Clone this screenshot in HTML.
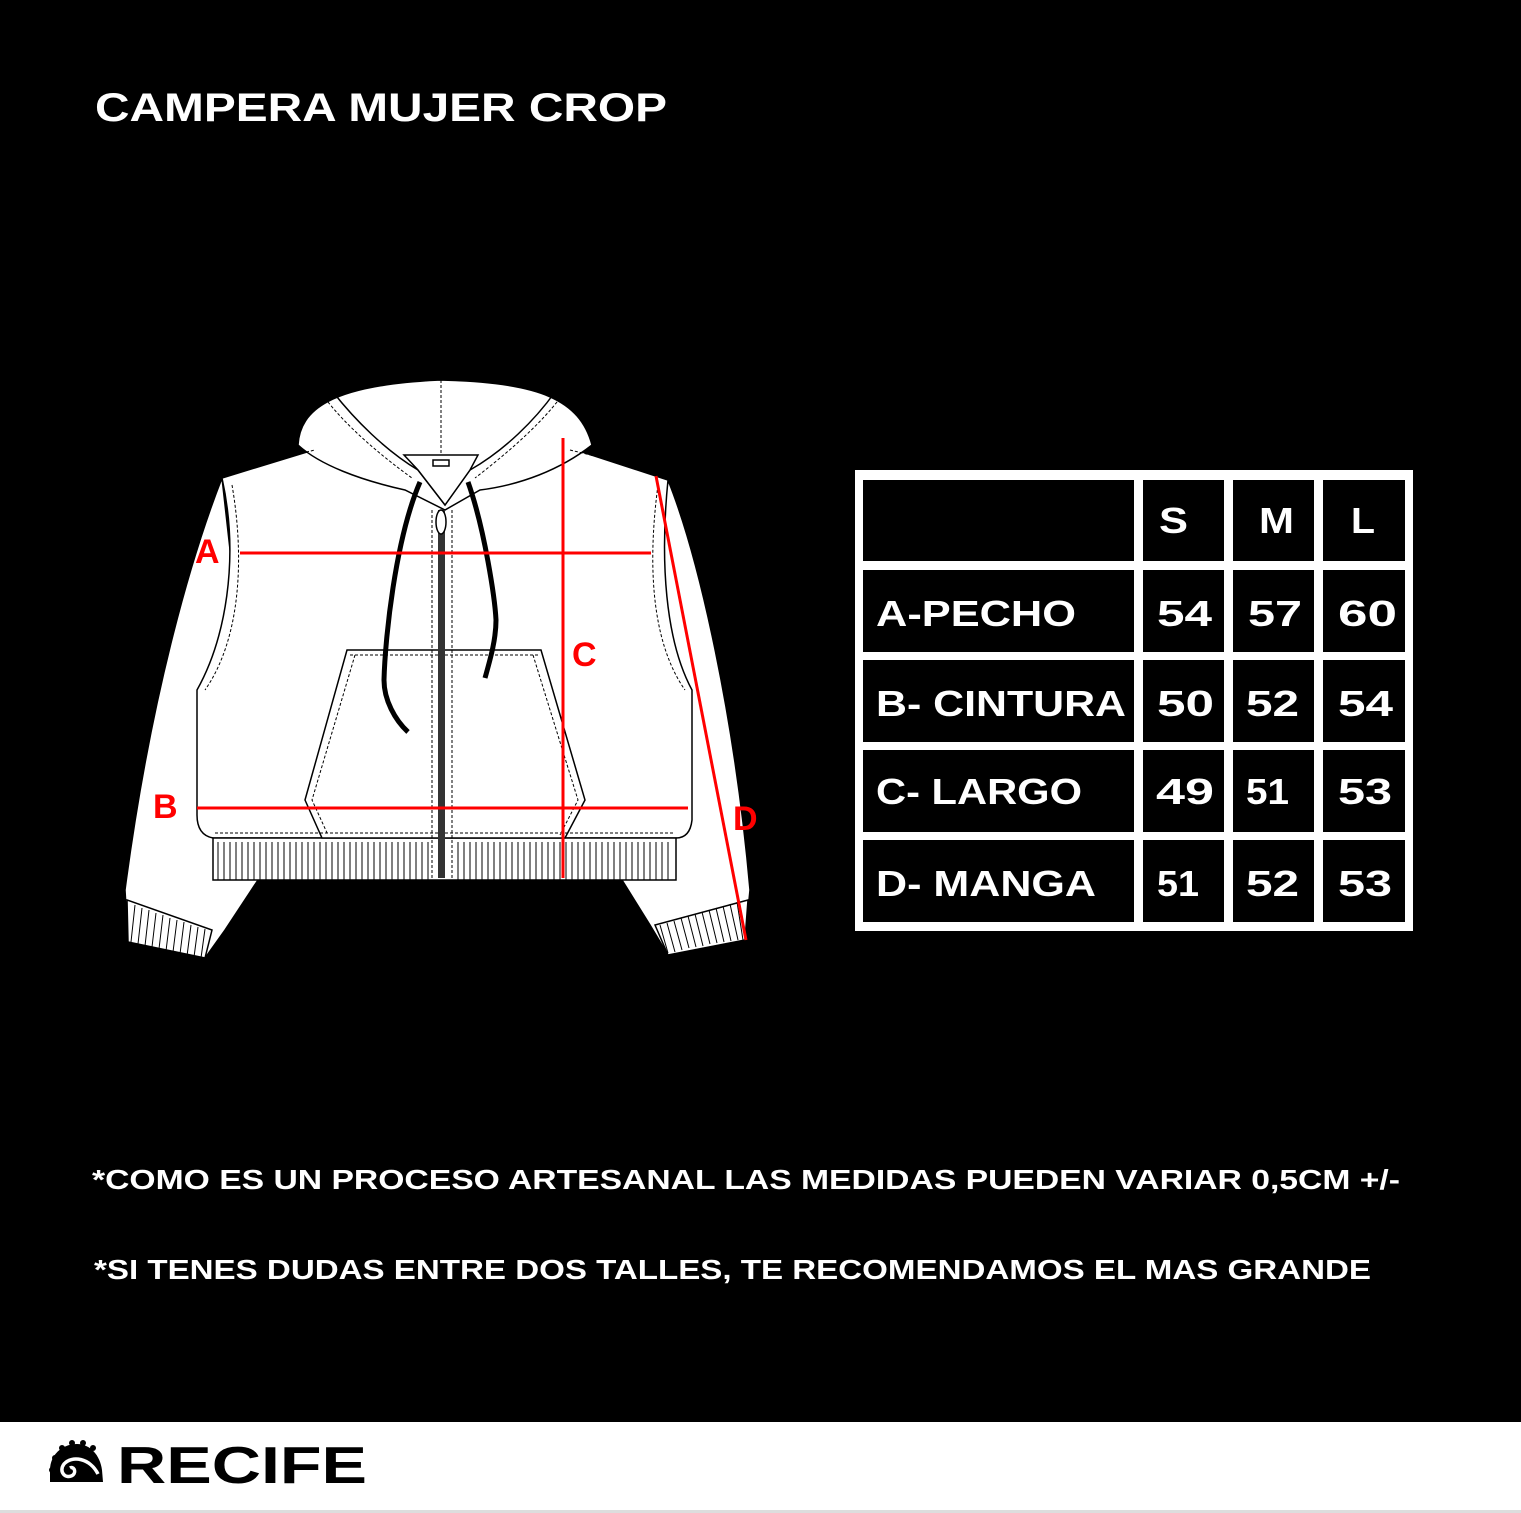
<!DOCTYPE html>
<html><head><meta charset="utf-8"><style>
html,body{margin:0;padding:0;background:#000;}
svg{display:block;}
text{font-family:"Liberation Sans",sans-serif;font-weight:bold;}
</style></head><body>
<svg width="1521" height="1513" viewBox="0 0 1521 1513" xmlns="http://www.w3.org/2000/svg">
<rect x="0" y="0" width="1521" height="1513" fill="#000"/>
<rect x="0" y="1422" width="1521" height="91" fill="#fff"/>
<rect x="0" y="1510" width="1521" height="3" fill="#ddd"/>

<text x="95" y="121" font-size="40" fill="#fff" textLength="572" lengthAdjust="spacingAndGlyphs">CAMPERA MUJER CROP</text>

<!-- jacket -->
<g stroke="#000" stroke-width="1.5" fill="#fff">
  <path d="M222,478 C190,560 150,700 125,890 L128,940 L205,958 L225,930 L258,880 L258,800 Z"/>
  <path d="M668,480 C700,560 735,720 750,890 L745,940 L668,955 L650,925 L622,880 L622,800 Z"/>
  <path d="M127,900 L212,930 L205,958 L128,942 Z"/>
  <path d="M748,900 L655,925 L668,955 L745,940 Z"/>
  <path d="M222,478 L320,448 L570,448 L668,480 C660,560 665,640 692,690 L692,820 Q690,838 676,838 L213,838 Q197,835 197,815 L197,690 C225,640 240,560 222,478 Z"/>
  <rect x="213" y="838" width="463" height="42"/>
  <path d="M298,445 C300,410 330,385 440,380 C540,382 580,400 592,445 C560,470 520,485 480,490 L445,510 L405,490 C360,480 320,465 298,445 Z"/>
  <path d="M333,392 C355,420 385,450 418,470 L445,505 L470,470 C505,450 535,420 555,392" fill="none"/>
  <path d="M404,455 L478,455 L470,470 L445,505 L418,470 Z"/>
  <rect x="433" y="460" width="16" height="6" fill="#fff"/>
  <path d="M347,650 L541,650 L585,800 L565,838 L322,838 L305,800 Z"/>
</g>
<g stroke="#000" stroke-width="1" fill="none" stroke-dasharray="3,2">
  <line x1="441" y1="380" x2="441" y2="455"/>
  <path d="M325,398 C345,425 380,455 412,478"/>
  <path d="M560,398 C540,425 505,455 475,478"/>
  <path d="M232,485 C245,560 240,640 205,690"/>
  <path d="M658,485 C648,560 650,640 685,690"/>
  <path d="M228,470 L315,450"/>
  <path d="M570,450 L660,472"/>
  <line x1="432" y1="510" x2="432" y2="878"/>
  <line x1="452" y1="510" x2="452" y2="878"/>
  <path d="M355,655 L312,800 L328,835"/>
  <path d="M533,655 L578,800 L560,835"/>
  <line x1="350" y1="655" x2="538" y2="655"/>
  <line x1="215" y1="833" x2="675" y2="833"/>
</g>
<g stroke="#000" stroke-width="1">
  <path d="M218,842 V880 M224,842 V880 M230,842 V880 M236,842 V880 M242,842 V880 M248,842 V880 M254,842 V880 M260,842 V880 M266,842 V880 M272,842 V880 M278,842 V880 M284,842 V880 M290,842 V880 M296,842 V880 M302,842 V880 M308,842 V880 M314,842 V880 M320,842 V880 M326,842 V880 M332,842 V880 M338,842 V880 M344,842 V880 M350,842 V880 M356,842 V880 M362,842 V880 M368,842 V880 M374,842 V880 M380,842 V880 M386,842 V880 M392,842 V880 M398,842 V880 M404,842 V880 M410,842 V880 M416,842 V880 M422,842 V880 M428,842 V880 M458,842 V880 M464,842 V880 M470,842 V880 M476,842 V880 M482,842 V880 M488,842 V880 M494,842 V880 M500,842 V880 M506,842 V880 M512,842 V880 M518,842 V880 M524,842 V880 M530,842 V880 M536,842 V880 M542,842 V880 M548,842 V880 M554,842 V880 M560,842 V880 M566,842 V880 M572,842 V880 M578,842 V880 M584,842 V880 M590,842 V880 M596,842 V880 M602,842 V880 M608,842 V880 M614,842 V880 M620,842 V880 M626,842 V880 M632,842 V880 M638,842 V880 M644,842 V880 M650,842 V880 M656,842 V880 M662,842 V880 M668,842 V880"/>
  <path d="M135,905 L131,942 M142,908 L138,944 M149,910 L145,946 M156,913 L152,947 M163,915 L159,949 M170,918 L166,951 M177,920 L173,952 M184,922 L180,954 M191,925 L187,956 M198,927 L194,957 M205,929 L201,958"/>
  <path d="M660,925 L668,953 M667,923 L675,952 M674,921 L682,950 M681,918 L689,948 M688,916 L696,947 M695,914 L703,946 M702,912 L710,944 M709,910 L717,943 M716,908 L724,942 M723,906 L731,941 M730,904 L738,940 M737,902 L743,940"/>
</g>
<rect x="438" y="510" width="7" height="368" fill="#333"/>
<ellipse cx="441" cy="522" rx="5" ry="12" fill="#fff" stroke="#000" stroke-width="1.5"/>
<path d="M420,482 C395,540 385,640 384,680 C384,700 395,720 408,732" stroke="#000" stroke-width="5" fill="none"/>
<path d="M468,482 C485,530 495,600 496,620 C496,640 490,660 485,678" stroke="#000" stroke-width="5" fill="none"/>

<g stroke="#f00" stroke-width="3">
  <line x1="240" y1="553" x2="651" y2="553"/>
  <line x1="563" y1="438" x2="563" y2="878"/>
  <line x1="197" y1="808" x2="688" y2="808"/>
  <line x1="656" y1="476" x2="746" y2="940"/>
</g>
<g fill="#f00" font-size="34">
  <text x="195" y="563">A</text>
  <text x="572" y="666">C</text>
  <text x="153" y="818">B</text>
  <text x="733" y="830">D</text>
</g>

<rect x="855" y="470" width="558" height="461" fill="#fff"/>
<g fill="#000">
  <rect x="863" y="480" width="271" height="81"/><rect x="1143" y="480" width="81" height="81"/><rect x="1233" y="480" width="81" height="81"/><rect x="1323" y="480" width="82" height="81"/>
  <rect x="863" y="570" width="271" height="82"/><rect x="1143" y="570" width="81" height="82"/><rect x="1233" y="570" width="81" height="82"/><rect x="1323" y="570" width="82" height="82"/>
  <rect x="863" y="660" width="271" height="82"/><rect x="1143" y="660" width="81" height="82"/><rect x="1233" y="660" width="81" height="82"/><rect x="1323" y="660" width="82" height="82"/>
  <rect x="863" y="750" width="271" height="82"/><rect x="1143" y="750" width="81" height="82"/><rect x="1233" y="750" width="81" height="82"/><rect x="1323" y="750" width="82" height="82"/>
  <rect x="863" y="840" width="271" height="82"/><rect x="1143" y="840" width="81" height="82"/><rect x="1233" y="840" width="81" height="82"/><rect x="1323" y="840" width="82" height="82"/>
</g>
<g fill="#fff" font-size="36">
  <text x="1159" y="533" textLength="29" lengthAdjust="spacingAndGlyphs">S</text>
  <text x="1259" y="533" textLength="35" lengthAdjust="spacingAndGlyphs">M</text>
  <text x="1351" y="533" textLength="24" lengthAdjust="spacingAndGlyphs">L</text>
  <text x="876" y="626" textLength="200" lengthAdjust="spacingAndGlyphs">A-PECHO</text>
  <text x="1157" y="626" textLength="55" lengthAdjust="spacingAndGlyphs">54</text>
  <text x="1248" y="626" textLength="54" lengthAdjust="spacingAndGlyphs">57</text>
  <text x="1338" y="626" textLength="59" lengthAdjust="spacingAndGlyphs">60</text>
  <text x="876" y="716" textLength="250" lengthAdjust="spacingAndGlyphs">B- CINTURA</text>
  <text x="1157" y="716" textLength="57" lengthAdjust="spacingAndGlyphs">50</text>
  <text x="1246" y="716" textLength="53" lengthAdjust="spacingAndGlyphs">52</text>
  <text x="1338" y="716" textLength="55" lengthAdjust="spacingAndGlyphs">54</text>
  <text x="876" y="804" textLength="206" lengthAdjust="spacingAndGlyphs">C- LARGO</text>
  <text x="1156" y="804" textLength="58" lengthAdjust="spacingAndGlyphs">49</text>
  <text x="1246" y="804" textLength="43" lengthAdjust="spacingAndGlyphs">51</text>
  <text x="1338" y="804" textLength="54" lengthAdjust="spacingAndGlyphs">53</text>
  <text x="876" y="896" textLength="220" lengthAdjust="spacingAndGlyphs">D- MANGA</text>
  <text x="1157" y="896" textLength="42" lengthAdjust="spacingAndGlyphs">51</text>
  <text x="1246" y="896" textLength="53" lengthAdjust="spacingAndGlyphs">52</text>
  <text x="1338" y="896" textLength="54" lengthAdjust="spacingAndGlyphs">53</text>
</g>

<g fill="#fff" font-size="28">
  <text x="92" y="1189" textLength="1308" lengthAdjust="spacingAndGlyphs">*COMO ES UN PROCESO ARTESANAL LAS MEDIDAS PUEDEN VARIAR 0,5CM +/-</text>
  <text x="94" y="1279" textLength="1277" lengthAdjust="spacingAndGlyphs">*SI TENES DUDAS ENTRE DOS TALLES, TE RECOMENDAMOS EL MAS GRANDE</text>
</g>

<g fill="#000">
  <path d="M50,1482 L50,1470 C50,1455 62,1444 77,1444 C90,1444 100,1455 102,1470 L103,1482 Z"/>
  <circle cx="55" cy="1458" r="3"/><circle cx="62" cy="1448" r="3"/><circle cx="72" cy="1443" r="3"/><circle cx="83" cy="1443" r="3"/><circle cx="93" cy="1448" r="3"/><circle cx="52" cy="1470" r="3"/>
</g>
<path d="M98,1474 C90,1458 72,1455 64,1464 C58,1472 66,1480 73,1475 C77,1471 73,1466 70,1468" stroke="#fff" stroke-width="3.5" fill="none"/>
<text x="117" y="1483" font-size="52" fill="#000" textLength="250" lengthAdjust="spacingAndGlyphs">RECIFE</text>
</svg>
</body></html>
